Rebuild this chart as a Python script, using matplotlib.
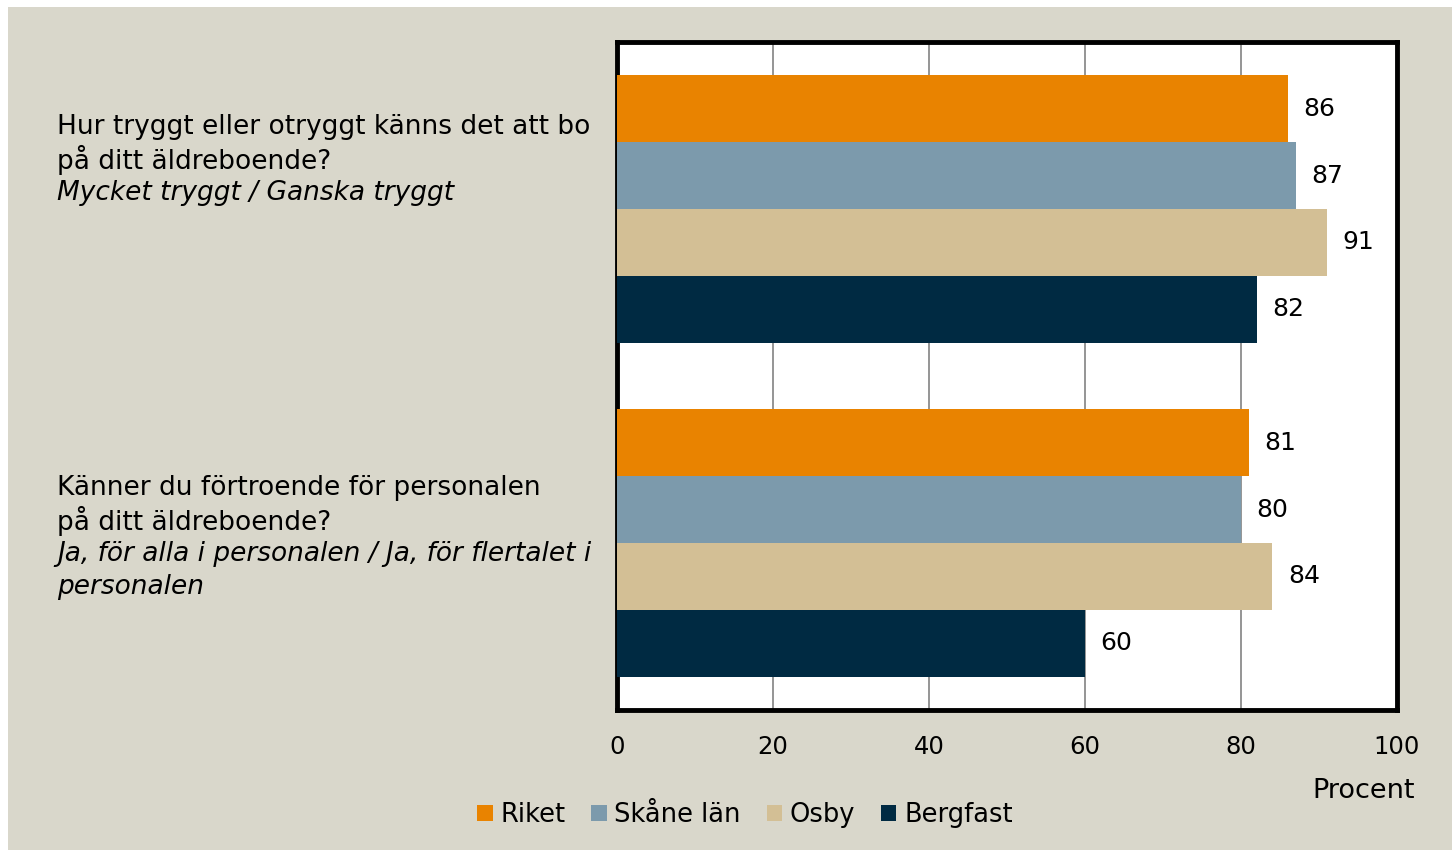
import matplotlib.pyplot as plt
import numpy as np
from matplotlib.patches import Rectangle

# data
series = ["Riket", "Skåne län", "Osby", "Bergfast"]
colors = ["#E98300", "#7C9AAC", "#D3BF95", "#002A42"]
q1 = [86, 87, 91, 82]
q2 = [81, 80, 84, 60]
ticks = [0, 20, 40, 60, 80, 100]

plt.rcParams['font.family'] = ['DejaVu Sans']

W, H = 1452, 850
fig = plt.figure(figsize=(W / 100, H / 100), dpi=100, facecolor="white")

# beige background panel
fig.patches.append(Rectangle((8 / W, 0), 1 - 8 / W, 1 - 7 / H, transform=fig.transFigure,
                             facecolor="#D9D7CB", edgecolor="none", zorder=-10))

ax = fig.add_axes([617 / W, 1 - 710 / H, (1397 - 617) / W, (710 - 42) / H])
ax.set_facecolor("white")

h = 0.2
groups = [0, 1]
values = np.array([q1, q2])
for i, name in enumerate(series):
    ys = np.array(groups) - 0.3 + i * h
    bars = ax.barh(ys, values[:, i], height=h, color=colors[i], label=name, zorder=3)
    for b, v in zip(bars, values[:, i]):
        ax.text(v + 2, b.get_y() + h / 2, str(v), va="center", ha="left",
                fontsize=18, color="black", zorder=4)

ax.set_xlim(0, 100)
ax.set_ylim(1.5, -0.5)
ax.set_xticks(ticks)
ax.set_yticks([])
ax.grid(axis="x", color="#8C8C8C", linewidth=1.3, zorder=0)
ax.tick_params(axis="x", length=0, pad=18, labelsize=17.5)
for s in ax.spines.values():
    s.set_linewidth(3.5)
    s.set_color("black")

fig.text(1415 / W, 1 - 791 / H, "Procent", ha="right", va="center", fontsize=19.5)

# question labels
def lines(x, y0, rows):
    y = y0
    for txt, style in rows:
        fig.text(x / W, 1 - y / H, txt, ha="left", va="center", fontsize=19, style=style)
        y += 33

lines(57, 127, [("Hur tryggt eller otryggt känns det att bo", "normal"),
                ("på ditt äldreboende?", "normal"),
                ("Mycket tryggt / Ganska tryggt", "italic")])
lines(57, 488, [("Känner du förtroende för personalen", "normal"),
                ("på ditt äldreboende?", "normal"),
                ("Ja, för alla i personalen / Ja, för flertalet i", "italic"),
                ("personalen", "italic")])

fig.legend(loc="center", bbox_to_anchor=(745 / W, 1 - 815 / H), ncol=4, frameon=False,
           fontsize=18.5, handlelength=0.6, handleheight=0.6, handletextpad=0.3,
           columnspacing=1.0)

fig.savefig("out.png", dpi=100, facecolor=fig.get_facecolor())
